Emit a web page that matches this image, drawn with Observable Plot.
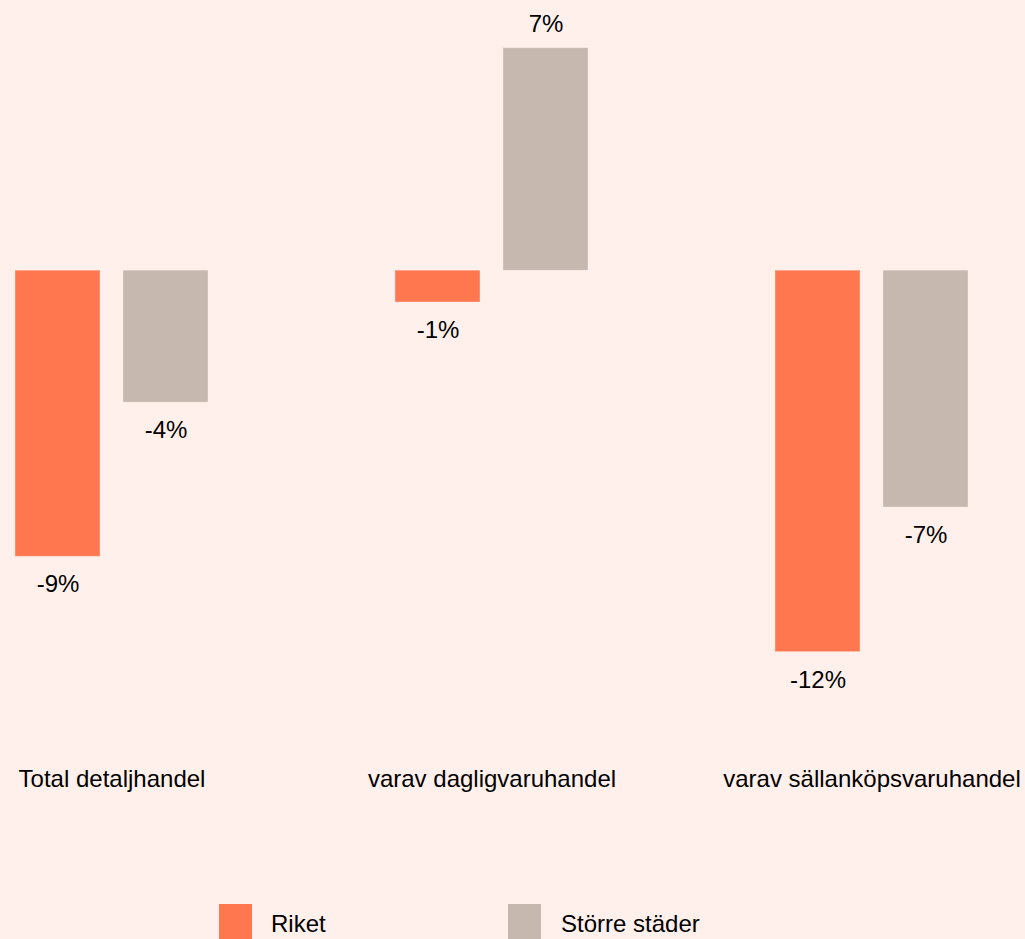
<!DOCTYPE html>
<html>
<head>
<meta charset="utf-8">
<script src="https://cdn.jsdelivr.net/npm/d3@7"></script>
<script src="https://cdn.jsdelivr.net/npm/@observablehq/plot@0.6"></script>
<style>
  html, body { margin: 0; padding: 0; background: #FFF0EB; overflow: hidden; }
  #wrap { position: relative; width: 1025px; height: 939px; font-family: "Liberation Sans", Arial, sans-serif; }
  #legend { position: absolute; left: 0; top: 904px; width: 1025px; height: 35px; }
  .sw { position: absolute; top: 0; width: 33px; height: 40px; }
  .lab { position: absolute; top: 8px; font-size: 24px; line-height: 24px; color: #000; white-space: nowrap; }
</style>
</head>
<body>
<div id="wrap"><div id="chart"></div><div id="legend"></div></div>
<script>
const categories = ["Total detaljhandel", "varav dagligvaruhandel", "varav sällanköpsvaruhandel"];
const seriesNames = ["Riket", "Större städer"];
const riketValues = [-9.0, -1.0, -12.0];
const storreValues = [-4.15, 7.0, -7.45];
const seriesColors = ["#FF774F", "#C6B8AE"];

const data = [];
categories.forEach((c, i) => {
  data.push({category: c, series: seriesNames[0], value: riketValues[i]});
  data.push({category: c, series: seriesNames[1], value: storreValues[i]});
});
const fmt = v => `${Math.round(v)}%`;

const chart = Plot.plot({
  width: 1025,
  height: 900,
  marginTop: 0,
  marginLeft: 14,
  marginRight: 57,
  marginBottom: 900 - 747,
  style: {background: "#FFF0EB", fontFamily: "'Liberation Sans', Arial, sans-serif", fontSize: "24px", color: "#000"},
  fx: {domain: categories, paddingInner: 0.4934, paddingOuter: 0, axis: null},
  x: {domain: seriesNames, paddingInner: 0.213, paddingOuter: 0, axis: null},
  y: {domain: [-15, 8.5], axis: null},
  color: {domain: seriesNames, range: seriesColors},
  marks: [
    Plot.barY(data, {fx: "category", x: "series", y: "value", fill: "series", stroke: "#FFF0EB", strokeOpacity: 0.35, strokeWidth: 1}),
    Plot.text(data.filter(d => d.value < 0), {fx: "category", x: "series", y: "value", text: d => fmt(d.value), dy: 28, lineAnchor: "middle", fontSize: 24, fill: "#000"}),
    Plot.text(data.filter(d => d.value >= 0), {fx: "category", x: "series", y: "value", text: d => fmt(d.value), dy: -24, lineAnchor: "middle", fontSize: 24, fill: "#000"}),
    Plot.axisFx({anchor: "bottom", tickSize: 0, tickPadding: 22, fontSize: 24, label: null, fill: "#000"})
  ]
});
document.getElementById("chart").appendChild(chart);

const legend = document.getElementById("legend");
const swLeft = [219, 508];
const labLeft = [271, 561];
seriesNames.forEach((s, i) => {
  const sw = document.createElement("div");
  sw.className = "sw";
  sw.style.left = swLeft[i] + "px";
  sw.style.background = seriesColors[i];
  legend.appendChild(sw);
  const lb = document.createElement("div");
  lb.className = "lab";
  lb.style.left = labLeft[i] + "px";
  lb.textContent = s;
  legend.appendChild(lb);
});
</script>
</body>
</html>
